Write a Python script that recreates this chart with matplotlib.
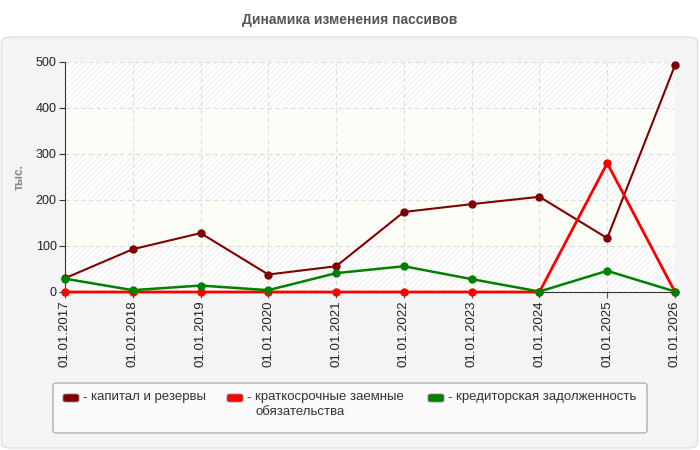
import matplotlib
matplotlib.use('Agg')
import matplotlib.pyplot as plt
from matplotlib.patches import FancyBboxPatch
import numpy as np

plt.rcParams['font.family'] = ['Liberation Sans', 'DejaVu Sans']
plt.rcParams['hatch.linewidth'] = 0.6

# данные
dates = ['01.01.2017', '01.01.2018', '01.01.2019', '01.01.2020', '01.01.2021',
         '01.01.2022', '01.01.2023', '01.01.2024', '01.01.2025', '01.01.2026']
capital = [30, 93, 128, 38, 56, 174, 191, 207, 117, 493]
short_loans = [0, 0, 0, 0, 0, 0, 0, 0, 280, 0]
payables = [29, 4, 14, 4, 41, 56, 28, 1, 46, 1]

series_names = ['капитал и резервы', 'краткосрочные заемные\nобязательства',
                'кредиторская задолженность']
colors = ['#800000', '#ff0000', '#008000']
yticks = [0, 100, 200, 300, 400, 500]

W, H = 700, 450
fig = plt.figure(figsize=(7, 4.5), dpi=100)
fig.patch.set_facecolor('white')

# серый фон панели
panel = FancyBboxPatch((1.5 / W, 1 - 448 / H), 696 / W, 411 / H,
                       boxstyle='round,pad=0,rounding_size=0.012',
                       transform=fig.transFigure, facecolor='#f4f4f4',
                       edgecolor='#e0e0e0', linewidth=1, zorder=-5)
fig.patches.append(panel)

fig.text(0.5, 1 - 20 / H, 'Динамика изменения пассивов', ha='center', va='center',
         fontsize=10, fontweight='bold', color='#555555')

ax = fig.add_axes([65 / W, 1 - 292 / H, 610 / W, 230 / H])
ax.set_zorder(2)
ax.set_facecolor('#fdfdf8')
x = np.arange(len(dates))

# полосы фона
for i in range(len(yticks) - 1):
    if i % 2 == 0:
        ax.axhspan(yticks[i], yticks[i + 1], facecolor='white', edgecolor='#ebebeb',
                   hatch='//////', linewidth=0, zorder=0)

ax.grid(True, color='#dddddd', linestyle=(0, (4, 3)), linewidth=0.8, zorder=1)
ax.set_axisbelow(True)

for vals, c, lw in zip([capital, short_loans, payables], colors, [1.5, 2.0, 1.8]):
    ax.plot(x, vals, color=c, linewidth=lw, marker='o', markersize=5, zorder=3,
            clip_on=False)

ax.set_xlim(0, len(dates) - 1)
ax.set_ylim(0, 500)
ax.set_yticks(yticks)
ax.set_xticks(x)
ax.set_xticklabels(dates, rotation=90, fontsize=9.5, color='#222222')
ax.tick_params(axis='y', labelsize=9, colors='#333333', labelcolor='#222222',
               length=4, width=0.8, pad=2)
ax.tick_params(axis='x', length=4, width=0.8, colors='#555555', labelcolor='#222222',
               pad=2)
for s in ['top', 'right']:
    ax.spines[s].set_visible(False)
ax.spines['left'].set_color('#333333')
ax.spines['bottom'].set_color('#333333')
fig.text(20 / W, 1 - 177 / H, 'тыс.', rotation=90, fontsize=8.5, color='#888888',
         fontweight='bold', ha='center', va='center')

# легенда
leg = FancyBboxPatch((53 / W, 1 - 433 / H), 594 / W, 50 / H,
                     boxstyle='round,pad=0,rounding_size=0.006',
                     transform=fig.transFigure, facecolor='#fafafa',
                     edgecolor='#aaaaaa', linewidth=0.9, zorder=1)
fig.patches.append(leg)
leg_x = [63, 227, 428]
for lx, name, c in zip(leg_x, series_names, colors):
    sw = FancyBboxPatch((lx / W, 1 - 402 / H), 16 / W, 8 / H,
                        boxstyle='round,pad=0,rounding_size=0.004',
                        transform=fig.transFigure, facecolor=c,
                        edgecolor='#888888', linewidth=0.6, zorder=2)
    fig.patches.append(sw)
    fig.text((lx + 19) / W, 1 - 398 / H, '-', fontsize=9.5, color='#333333',
             va='center', ha='left')
    fig.text((lx + 28) / W, 1 - 391 / H, name, fontsize=9.5, color='#333333',
             va='top', ha='left', linespacing=1.3)

fig.savefig('out.png', dpi=100)
